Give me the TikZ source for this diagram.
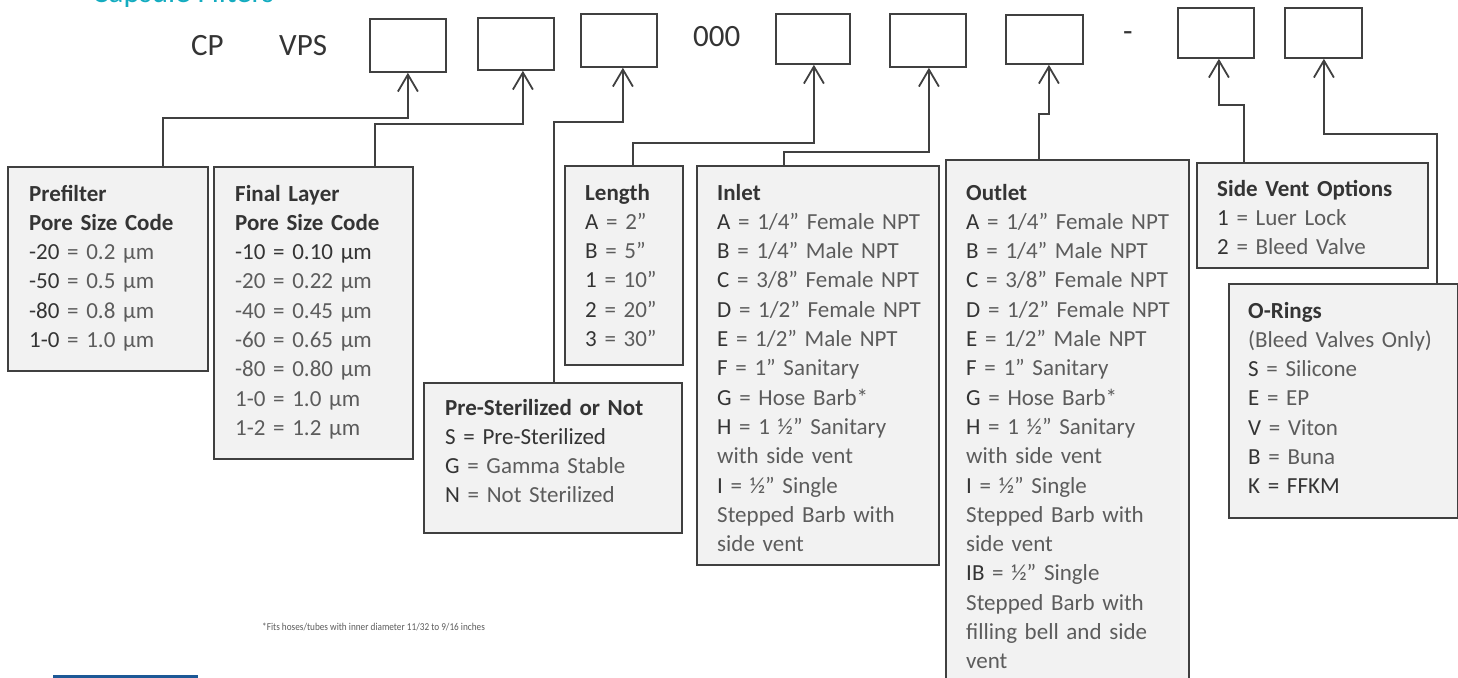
\documentclass[tikz,border=0pt]{standalone}
\usepackage{fontspec}
\setmainfont{Carlito}
\usetikzlibrary{arrows.meta}
\definecolor{linegray}{RGB}{64,64,64}
\definecolor{boxfill}{RGB}{242,242,242}
\definecolor{keygray}{RGB}{52,52,52}
\definecolor{valgray}{RGB}{92,92,92}
\definecolor{titleteal}{RGB}{20,172,192}
\definecolor{ruleblue}{RGB}{28,88,150}
\newcommand{\legtitle}[1]{\textbf{\textcolor{keygray}{#1}}}
\newcommand{\codeopt}[2]{\textcolor{keygray}{#1} = #2}

\begin{document}
\begin{tikzpicture}[x=1pt, y=-1pt,
  every node/.style={font=\fontsize{23}{29.3}\selectfont, text=valgray},
  codebox/.style={draw=linegray, line width=1.8pt, inner sep=0, anchor=north west},
  legend/.style={draw=linegray, line width=1.8pt, fill=boxfill, inner sep=0, anchor=north west},
  legtext/.style={anchor=base west, inner sep=0, text width=#1, align=left},
  bigtext/.style={anchor=base west, inner sep=0, font=\fontsize{31}{31}\selectfont, text=keygray},
  feed/.style={draw=linegray, line width=1.8pt, -{Straight Barb[length=17pt, width=20pt]}}]
  \useasboundingbox (0,0) rectangle (1458,677);

  % title
  \node[bigtext, text=titleteal] (title) at (92,3) {Capsule Filters};

  % part number line
  \node[bigtext] (cp) at (191,56) {CP};
  \node[bigtext] (vps) at (279,56) {VPS};
  \node[bigtext] (zeros) at (693,47) {000};
  \node[bigtext] (dash) at (1123,42) {-};
  \node[codebox, minimum width=76pt, minimum height=53pt] (c1) at (369,18) {};
  \node[codebox, minimum width=76pt, minimum height=52pt] (c2) at (477,17) {};
  \node[codebox, minimum width=76pt, minimum height=53pt] (c3) at (580,13) {};
  \node[codebox, minimum width=74pt, minimum height=50pt] (c4) at (775,13) {};
  \node[codebox, minimum width=76pt, minimum height=53pt] (c5) at (889,13) {};
  \node[codebox, minimum width=77pt, minimum height=49pt] (c6) at (1005,14) {};
  \node[codebox, minimum width=76pt, minimum height=50pt] (c7) at (1177,7) {};
  \node[codebox, minimum width=77pt, minimum height=50pt] (c8) at (1284,7) {};

  % legend boxes
  \node[legend, minimum width=200pt, minimum height=204pt] (prefilter) at (7,166) {};
  \node[legtext=178pt] (prefiltertxt) at ([shift={(22,35)}]prefilter.north west)
    {\legtitle{Prefilter}\\ \legtitle{Pore Size Code}\\
     \codeopt{-20}{0.2 µm}\\ \codeopt{-50}{0.5 µm}\\ \codeopt{-80}{0.8 µm}\\ \codeopt{1-0}{1.0 µm}};

  \node[legend, minimum width=199pt, minimum height=292pt] (final) at (213,166) {};
  \node[legtext=177pt] (finaltxt) at ([shift={(22,35)}]final.north west)
    {\legtitle{Final Layer}\\ \legtitle{Pore Size Code}\\
     \textcolor{keygray}{-10 = 0.10 µm}\\ -20 = 0.22 µm\\ -40 = 0.45 µm\\ -60 = 0.65 µm\\
     -80 = 0.80 µm\\ 1-0 = 1.0 µm\\ 1-2 = 1.2 µm};

  \node[legend, minimum width=118pt, minimum height=199pt] (length) at (564,165) {};
  \node[legtext=97pt] (lengthtxt) at ([shift={(21,35)}]length.north west)
    {\legtitle{Length}\\ \codeopt{A}{2”}\\ \codeopt{B}{5”}\\ \codeopt{1}{10”}\\
     \codeopt{2}{20”}\\ \codeopt{3}{30”}};

  \node[legend, minimum width=258pt, minimum height=150pt] (presterile) at (423,382) {};
  \node[legtext=236pt] (presteriletxt) at ([shift={(22,33)}]presterile.north west)
    {\legtitle{Pre-Sterilized or Not}\\ \textcolor{keygray}{S = Pre-Sterilized}\\
     \codeopt{G}{Gamma Stable}\\ \codeopt{N}{Not Sterilized}};

  \node[legend, minimum width=242pt, minimum height=399pt] (inlet) at (696,165) {};
  \node[legtext=221pt] (inlettxt) at ([shift={(21,35)}]inlet.north west)
    {\legtitle{Inlet}\\ \codeopt{A}{1/4” Female NPT}\\ \codeopt{B}{1/4” Male NPT}\\
     \codeopt{C}{3/8” Female NPT}\\ \codeopt{D}{1/2” Female NPT}\\ \codeopt{E}{1/2” Male NPT}\\
     \codeopt{F}{1” Sanitary}\\ \codeopt{G}{Hose Barb*}\\ \codeopt{H}{1 ½” Sanitary}\\
     with side vent\\ \codeopt{I}{½” Single}\\ Stepped Barb with\\ side vent};

  \node[legend, minimum width=243pt, minimum height=540pt] (outlet) at (945,159) {};
  \node[legtext=222pt] (outlettxt) at ([shift={(21,41)}]outlet.north west)
    {\legtitle{Outlet}\\ \codeopt{A}{1/4” Female NPT}\\ \codeopt{B}{1/4” Male NPT}\\
     \codeopt{C}{3/8” Female NPT}\\ \codeopt{D}{1/2” Female NPT}\\ \codeopt{E}{1/2” Male NPT}\\
     \codeopt{F}{1” Sanitary}\\ \codeopt{G}{Hose Barb*}\\ \codeopt{H}{1 ½” Sanitary}\\
     with side vent\\ \codeopt{I}{½” Single}\\ Stepped Barb with\\ side vent\\
     \codeopt{IB}{½” Single}\\ Stepped Barb with\\ filling bell and side\\ vent};

  \node[legend, minimum width=231pt, minimum height=105pt] (sidevent) at (1196,162) {};
  \node[legtext=210pt] (sideventtxt) at ([shift={(21,34)}]sidevent.north west)
    {\legtitle{Side Vent Options}\\ \codeopt{1}{Luer Lock}\\ \codeopt{2}{Bleed Valve}};

  \node[legend, minimum width=229pt, minimum height=234pt] (orings) at (1228,283) {};
  \node[legtext=208pt] (oringstxt) at ([shift={(20,35)}]orings.north west)
    {\legtitle{O-Rings}\\ (Bleed Valves Only)\\ \codeopt{S}{Silicone}\\ \codeopt{E}{EP}\\
     \codeopt{V}{Viton}\\ \codeopt{B}{Buna}\\ \textcolor{keygray}{K = FFKM}};

  % connectors
  \draw[feed] ([xshift=55pt]prefilter.north) -- ++(0,-48) -| (c1.south);
  \draw[feed] ([xshift=61.5pt]final.north) -- ++(0,-42) -| ([xshift=7pt]c2.south);
  \draw[feed] ([xshift=1pt]presterile.north) -- ++(0,-260) -| ([xshift=4pt]c3.south);
  \draw[feed] ([xshift=9pt]length.north) -- ++(0,-22) -| ([xshift=1pt]c4.south);
  \draw[feed] ([xshift=-34pt]inlet.north) -- ++(0,-13) -| ([xshift=1pt]c5.south);
  \draw[feed] ([xshift=-28.5pt]outlet.north) -- ++(0,-45) -| ([xshift=4.5pt]c6.south);
  \draw[feed] ([xshift=-68.5pt]sidevent.north) -- ++(0,-57) -| ([xshift=3pt]c7.south);
  \draw[feed] ([xshift=93.5pt]orings.north) -- ++(0,-149) -| ([xshift=0.5pt]c8.south);

  % footnote and bottom rule
  \node[anchor=west, inner sep=0, font=\fontsize{10.5}{12}\selectfont, text=valgray] (note)
    at (262,627) {\scalebox{0.88}[1]{*Fits hoses/tubes with inner diameter 11/32 to 9/16 inches}};
  \fill[ruleblue] (53,674.5) rectangle (198,678);
\end{tikzpicture}
\end{document}
